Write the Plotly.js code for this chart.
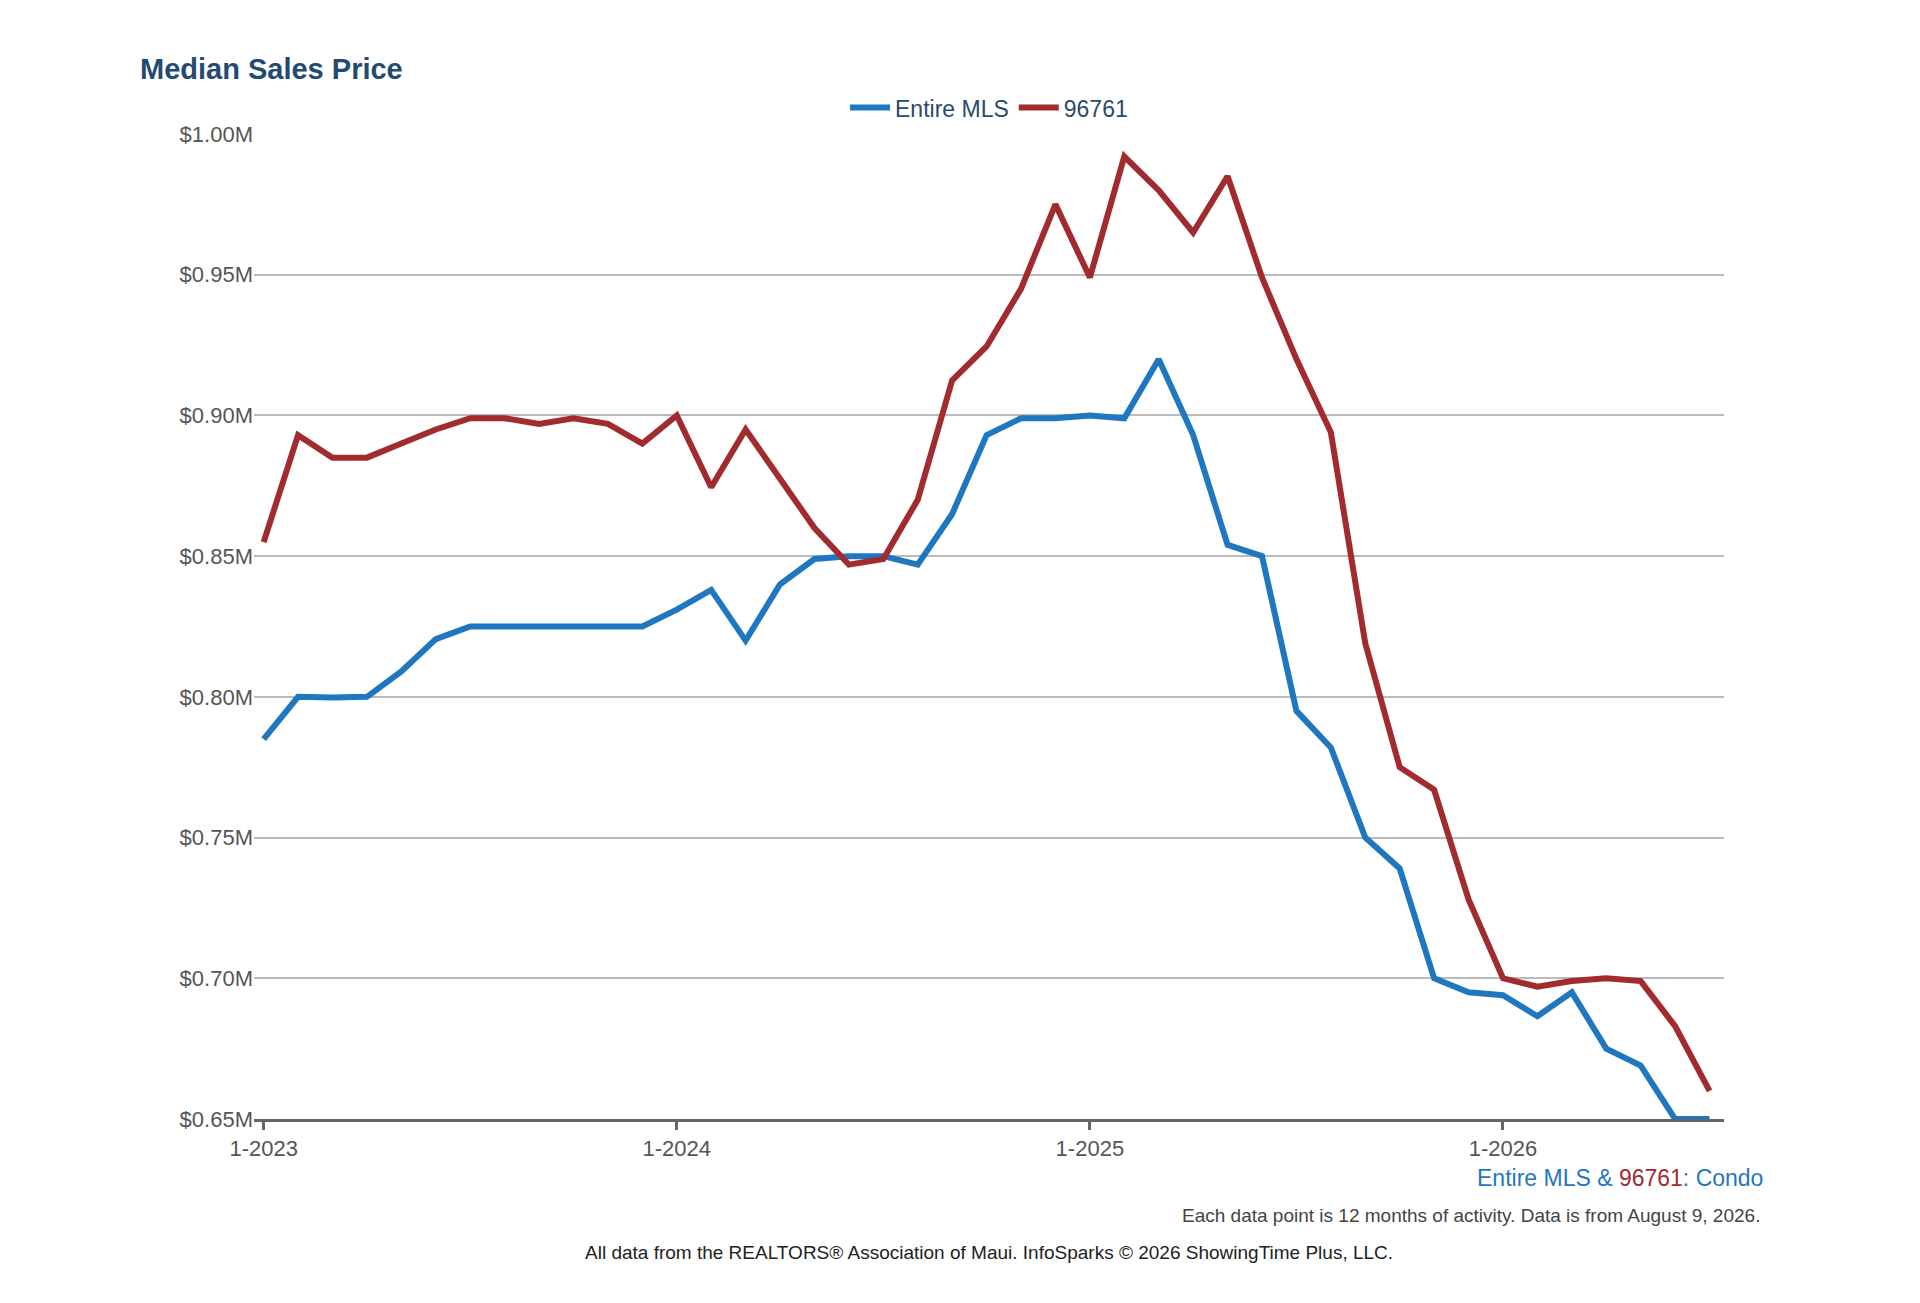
<!DOCTYPE html>
<html>
<head>
<meta charset="utf-8">
<script src="https://cdn.plot.ly/plotly-3.0.1.min.js"></script>
<style>html,body{margin:0;padding:0;background:#fff}#chart{width:1920px;height:1303px}</style>
</head>
<body>
<div id="chart"></div>
<script>
// monthly points, 1-2023 .. 7-2026 (12-month rolling)
const months = [];
for (let i = 0; i < 43; i++) months.push(i);
const tickVals = [0, 12, 24, 36];
const tickText = ['1-2023', '1-2024', '1-2025', '1-2026'];

const entireMLS = [0.785, 0.800, 0.7998, 0.800, 0.809, 0.8205, 0.825, 0.825, 0.825, 0.825, 0.825, 0.825,
  0.831, 0.838, 0.820, 0.840, 0.849, 0.850, 0.850, 0.847, 0.865, 0.893, 0.899, 0.899,
  0.900, 0.899, 0.920, 0.893, 0.854, 0.850, 0.795, 0.782, 0.750, 0.739, 0.700, 0.695,
  0.694, 0.6865, 0.695, 0.675, 0.669, 0.650, 0.650];
const zip96761 = [0.855, 0.893, 0.885, 0.885, 0.890, 0.895, 0.899, 0.899, 0.897, 0.899, 0.897, 0.890,
  0.900, 0.8745, 0.895, 0.8775, 0.860, 0.847, 0.849, 0.870, 0.9125, 0.9245, 0.945, 0.975,
  0.949, 0.992, 0.980, 0.965, 0.985, 0.949, 0.920, 0.894, 0.819, 0.775, 0.767, 0.728,
  0.700, 0.697, 0.699, 0.700, 0.699, 0.683, 0.660];

const BLUE = '#1f77c0', RED = '#a12b2f';

const traces = [
  { x: months, y: entireMLS, mode: 'lines', name: 'Entire MLS', line: { color: BLUE, width: 6 } },
  { x: months, y: zip96761, mode: 'lines', name: '96761', line: { color: RED, width: 6 } },
];

const layout = {
  width: 1920, height: 1303,
  margin: { l: 254, r: 196, t: 134, b: 184 },
  paper_bgcolor: '#fff', plot_bgcolor: '#fff',
  font: { family: 'Liberation Sans, Arial, sans-serif', size: 20, color: '#555' },
  showlegend: true,
  legend: { orientation: 'h', x: 0.5, xanchor: 'center', y: 1.005, yanchor: 'bottom',
    font: { size: 23, color: '#2a4a6e' }, itemwidth: 40 },
  xaxis: {
    range: [-0.28, 42.42], tickvals: tickVals, ticktext: tickText,
    showgrid: false, zeroline: false, showline: true, linecolor: '#666', linewidth: 3,
    ticks: 'outside', ticklen: 8, tickwidth: 3, tickcolor: '#666',
    tickfont: { size: 22, color: '#555' },
  },
  yaxis: {
    range: [0.65, 1.0], dtick: 0.05, tickformat: '$.2f', ticksuffix: 'M',
    showgrid: true, gridcolor: '#bbb', gridwidth: 2, zeroline: false,
    tickfont: { size: 22, color: '#555' },
  },
  annotations: [
    { xref: 'paper', yref: 'paper', x: -0.079, y: 1.048, xanchor: 'left', yanchor: 'bottom', showarrow: false,
      text: '<b>Median Sales Price</b>', font: { size: 29, color: '#234a72' } },
    { xref: 'paper', yref: 'paper', x: 1.028, y: -0.045, xanchor: 'right', yanchor: 'top', showarrow: false,
      text: '<span style="color:#1f77c0">Entire MLS &amp; </span><span style="color:#a12b2f">96761</span><span style="color:#1f77c0">: Condo</span>',
      font: { size: 23 } },
    { xref: 'paper', yref: 'paper', x: 1.026, y: -0.085, xanchor: 'right', yanchor: 'top', showarrow: false,
      text: 'Each data point is 12 months of activity. Data is from August 9, 2026.', font: { size: 19, color: '#444' } },
    { xref: 'paper', yref: 'paper', x: 0.5, y: -0.123, xanchor: 'center', yanchor: 'top', showarrow: false,
      text: 'All data from the REALTORS® Association of Maui. InfoSparks © 2026 ShowingTime Plus, LLC.', font: { size: 19, color: '#222' } },
  ],
};

Plotly.newPlot('chart', traces, layout, { displayModeBar: false, staticPlot: true });
</script>
</body>
</html>
